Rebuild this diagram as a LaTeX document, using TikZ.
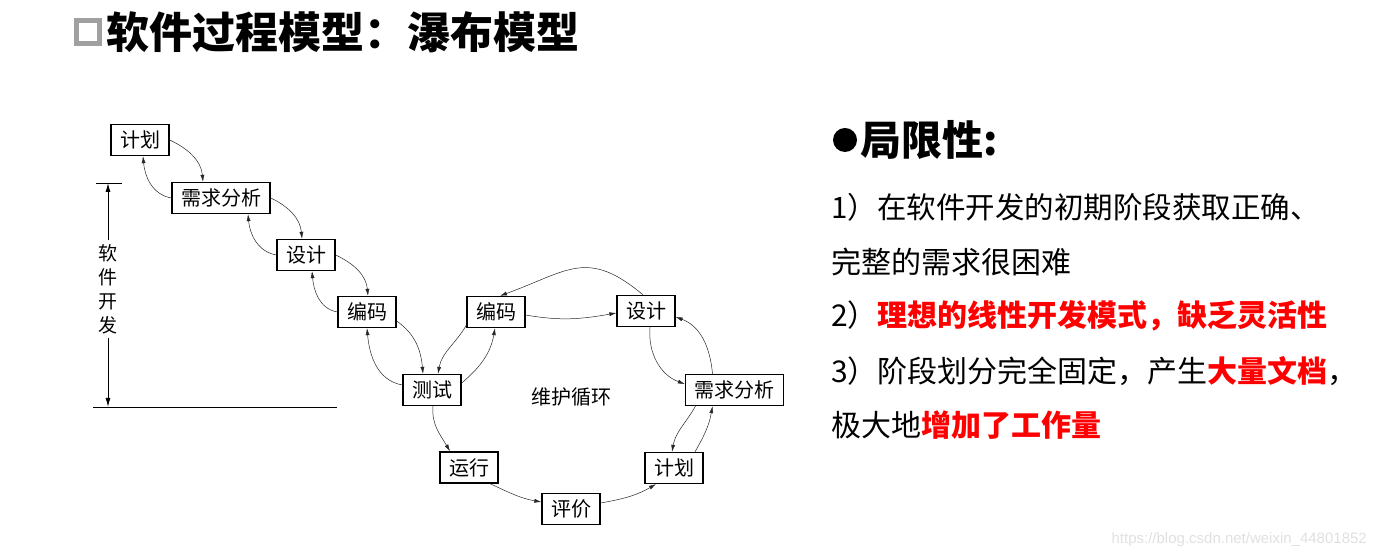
\documentclass[tikz,border=0pt]{standalone}
\usepackage{fontspec}
\usepackage{tikz}
\usetikzlibrary{arrows.meta,positioning,calc}
\newfontfamily\cjk{Noto Sans CJK SC}
\newfontfamily\wmfont{Liberation Sans}
\definecolor{slideRed}{RGB}{255,0,0}
\definecolor{slideGray}{RGB}{160,160,160}

\begin{document}
\begin{tikzpicture}[x=1pt, y=1pt,
  every node/.style={font=\cjk},
  stage/.style={draw, line width=1.3pt, inner xsep=9pt, inner ysep=0pt, minimum height=31pt, font=\cjk\fontsize{20}{22}\selectfont},
  flow/.style={-{Latex[length=7pt,width=4pt]}, line width=0.5pt, black!85},
  dim/.style={-{Latex[length=9pt,width=5pt]}, line width=1pt},
  txt/.style={anchor=west, inner sep=0pt, font=\cjk\fontsize{30}{34}\selectfont}]
  \useasboundingbox (0,0) rectangle (1377,559);
  % Title
  \node[draw=slideGray, line width=5pt, minimum size=23pt, inner sep=0pt] (tick) at (88,527) {};
  \node[anchor=west, inner sep=0pt, font=\cjk\bfseries\fontsize{43}{46}\selectfont] (title) at (106,527) {软件过程模型：瀑布模型};
  % Development span
  \coordinate (dimtop) at (108,376);
  \coordinate (dimbot) at (108,152);
  \node[fill=white, inner sep=4pt, align=center, font=\cjk\fontsize{19}{24}\selectfont] (devlabel) at (108,270) {软\\件\\开\\发};
  \draw[dim] (devlabel) -- (dimtop);
  \draw[dim] (devlabel) -- (dimbot);
  \draw[line width=0.6pt] (96,376) -- (122,376);
  \draw[line width=0.7pt] (93,152) -- (337,152);
  % Waterfall stages
  \node[stage] (plan) at (140,419) {计划};
  \node[stage] (req) at (221,361) {需求分析};
  \node[stage] (des) at (306,304) {设计};
  \node[stage] (code) at (367,247) {编码};
  \node[stage] (test) at (432,169) {测试};
  % Maintenance loop
  \node[stage] (codeR) at (496,247) {编码};
  \node[stage] (desR) at (646,248) {设计};
  \node[stage] (reqR) at (734.5,169) {需求分析};
  \node[stage] (planR) at (674,91) {计划};
  \node[stage] (eval) at (571,50) {评价};
  \node[stage] (run) at (469,91.5) {运行};
  \node[font=\cjk\fontsize{20}{22}\selectfont] (looplabel) at (571,162) {维护循环};
  % Waterfall arrows
  \draw[flow] (plan.east) to[out=-25,in=95] ([xshift=-18pt]req.north);
  \draw[flow] (req.east) to[out=-25,in=95] ([xshift=-4pt]des.north);
  \draw[flow] (des.east) to[out=-25,in=95] ([xshift=1pt]code.north);
  \draw[flow] ([yshift=-9pt]code.east) to[out=-35,in=95] ([xshift=-9pt]test.north);
  \draw[flow] (req.west) to[out=170,in=-85] ([xshift=3pt]plan.south);
  \draw[flow] (des.west) to[out=170,in=-85] ([xshift=27pt]req.south);
  \draw[flow] (code.west) to[out=170,in=-85] ([xshift=6pt]des.south);
  \draw[flow] ([yshift=5pt]test.west) to[out=170,in=-85] (code.south);
  % Loop arrows
  \draw[flow] ([yshift=7pt]test.east) to[out=40,in=-100] ([xshift=-1pt]codeR.south);
  \draw[flow] ([yshift=3pt]codeR.south west) to[out=-120,in=80] ([xshift=6pt]test.north);
  \draw[flow] ([yshift=-3pt]codeR.east) to[out=-10,in=-170] ([yshift=-2pt]desR.west);
  \draw[flow] ([xshift=-3pt]desR.north) to[out=140,in=20,looseness=1.3] ([xshift=4pt]codeR.north);
  \draw[flow] ([xshift=4pt]desR.south) to[out=-95,in=160] ([yshift=6pt]reqR.west);
  \draw[flow] ([xshift=-22pt]reqR.north) to[out=95,in=-20] ([yshift=-6pt]desR.east);
  \draw[flow] ([xshift=-39pt]reqR.south) to[out=-120,in=80] ([xshift=-2pt]planR.north);
  \draw[flow] ([xshift=21pt]planR.north) to[out=60,in=-100] ([xshift=-22pt]reqR.south);
  \draw[flow] ([xshift=1pt]test.south) to[out=-95,in=120] ([xshift=-19pt]run.north);
  \draw[flow] ([xshift=21pt]run.south) to[out=-25,in=170] ([yshift=7pt]eval.west);
  \draw[flow] ([yshift=6pt]eval.east) to[out=10,in=-150] ([xshift=-18pt]planR.south);
  % Limitations
  \fill (845,419) circle (12);
  \node[anchor=west, inner sep=0pt, font=\cjk\bfseries\fontsize{41}{44}\selectfont] (limhead) at (860,419) {局限性:};
  \node[txt, font=\cjk\fontsize{29.5}{34}\selectfont] (l1) at (831,352) {1）在软件开发的初期阶段获取正确、};
  \node[txt] (l2) at (831,297) {完整的需求很困难};
  \node[txt] (l3) at (831,243) {2）\textcolor{slideRed}{\bfseries 理想的线性开发模式，缺乏灵活性}};
  \node[txt] (l4) at (831,188) {3）阶段划分完全固定，产生\textcolor{slideRed}{\bfseries 大量文档}，};
  \node[txt] (l5) at (831,134) {极大地\textcolor{slideRed}{\bfseries 增加了工作量}};
  \node[anchor=east, inner sep=0pt, text=black!12, font=\wmfont\fontsize{15}{17}\selectfont] (wm) at (1367,19) {https://blog.csdn.net/weixin\_44801852};
\end{tikzpicture}
\end{document}
